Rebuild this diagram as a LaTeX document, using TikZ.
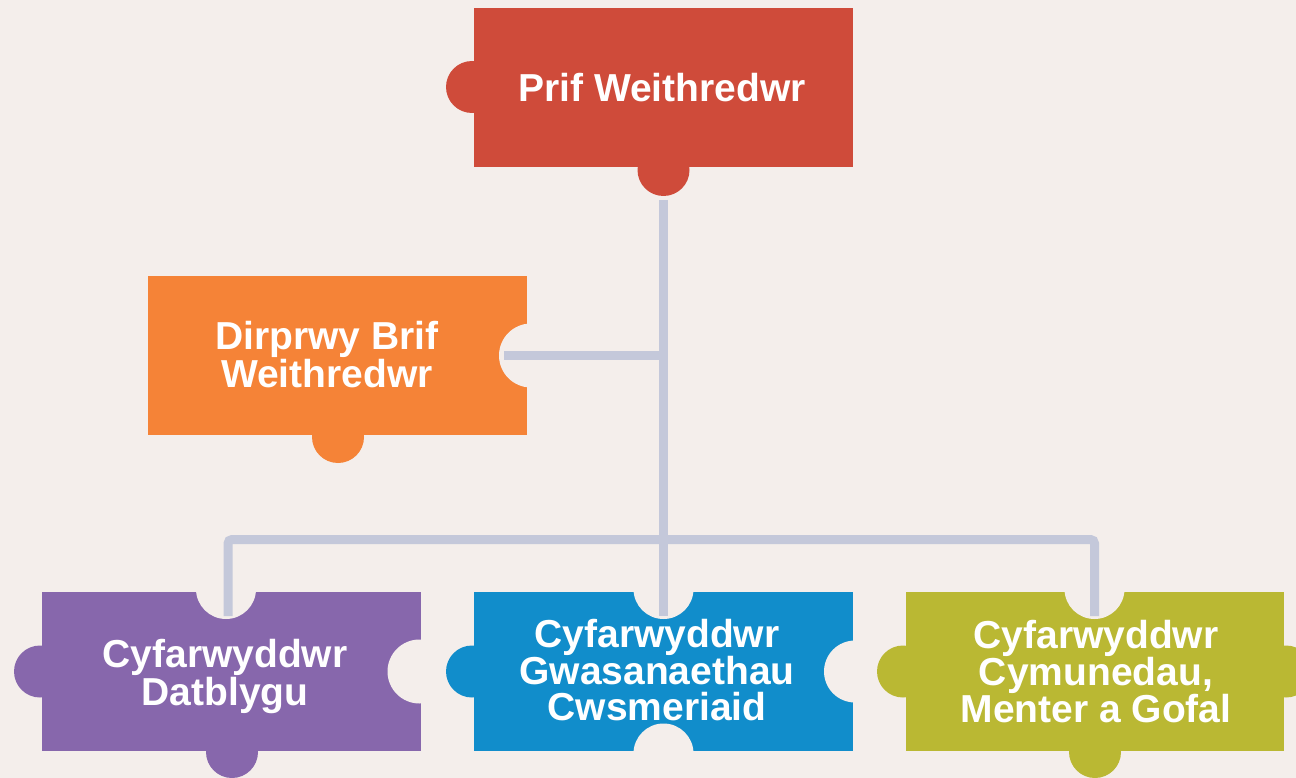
\documentclass[tikz,border=0pt]{standalone}
\usepackage{fontspec}
\setmainfont{Liberation Sans}
\definecolor{bgc}{HTML}{F4EEEB}
\definecolor{cred}{HTML}{CF4B3A}
\definecolor{corange}{HTML}{F58337}
\definecolor{cpurple}{HTML}{8767AC}
\definecolor{cblue}{HTML}{118DCB}
\definecolor{cgreen}{HTML}{BAB833}
\definecolor{cline}{HTML}{C4C8DA}
\begin{document}
\begin{tikzpicture}[x=1pt,y=-1pt,
  lbl/.style={text=white, font=\bfseries\fontsize{39}{36}\selectfont, align=center, inner sep=0pt},
  conn/.style={draw=cline, line width=9pt}]
\fill[bgc] (0,0) rectangle (1296,778);
\useasboundingbox (0,0) rectangle (1296,778);
% red piece
\fill[cred] (474,8) rectangle (853,167);
\fill[cred] (472,87) circle[radius=26pt];
\fill[cred] (663.5,170) circle[radius=26pt];
% orange piece
\fill[corange] (148,276) rectangle (527,435);
\fill[corange] (338,437) circle[radius=26pt];
\fill[bgc] (531,355.5) circle[radius=32pt];
% purple piece
\fill[cpurple] (42,592) rectangle (421,751);
\fill[cpurple] (40,671.5) circle[radius=26pt];
\fill[cpurple] (232,752) circle[radius=26pt];
\fill[bgc] (226,589) circle[radius=30pt];
\fill[bgc] (419.5,671.5) circle[radius=32pt];
% blue piece
\fill[cblue] (474,592) rectangle (853,751);
\fill[cblue] (472,671.5) circle[radius=26pt];
\fill[bgc] (663.5,589) circle[radius=30pt];
\fill[bgc] (855,671.5) circle[radius=31pt];
\fill[bgc] (663.5,753.5) circle[radius=30pt];
% green piece
\fill[cgreen] (906,592) rectangle (1284,751);
\fill[cgreen] (903,671.5) circle[radius=26pt];
\fill[cgreen] (1286,671.5) circle[radius=26pt];
\fill[cgreen] (1095,752) circle[radius=26pt];
\fill[bgc] (1094.5,589) circle[radius=30pt];
% labels
\node[lbl] (ceo) at (662,88) {Prif Weithredwr};
\node[lbl, font=\bfseries\fontsize{39}{38}\selectfont] (dep) at (327,355) {Dirprwy Brif\\Weithredwr};
\node[lbl] (dev) at (225,676.5) {Cyfarwyddwr\\Datblygu};
\node[lbl] (cus) at (657,670) {Cyfarwyddwr\\Gwasanaethau\\Cwsmeriaid};
\node[lbl] (com) at (1096,671.5) {Cyfarwyddwr\\Cymunedau,\\Menter a Gofal};
% connector points
\coordinate (ceoout) at (663.5,200);
\coordinate (depin) at (504,355.5);
\coordinate (depj) at (663.5,355.5);
\coordinate (busj) at (663.5,539.5);
\coordinate (devin) at (228,616);
\coordinate (cusin) at (663.5,616);
\coordinate (comin) at (1094.5,616);
% connectors
\draw[conn] (ceoout) -- (cusin);
\draw[conn] (depin) -- (depj);
\draw[conn, rounded corners=4pt] (devin) |- (busj) -| (comin);
\end{tikzpicture}
\end{document}
